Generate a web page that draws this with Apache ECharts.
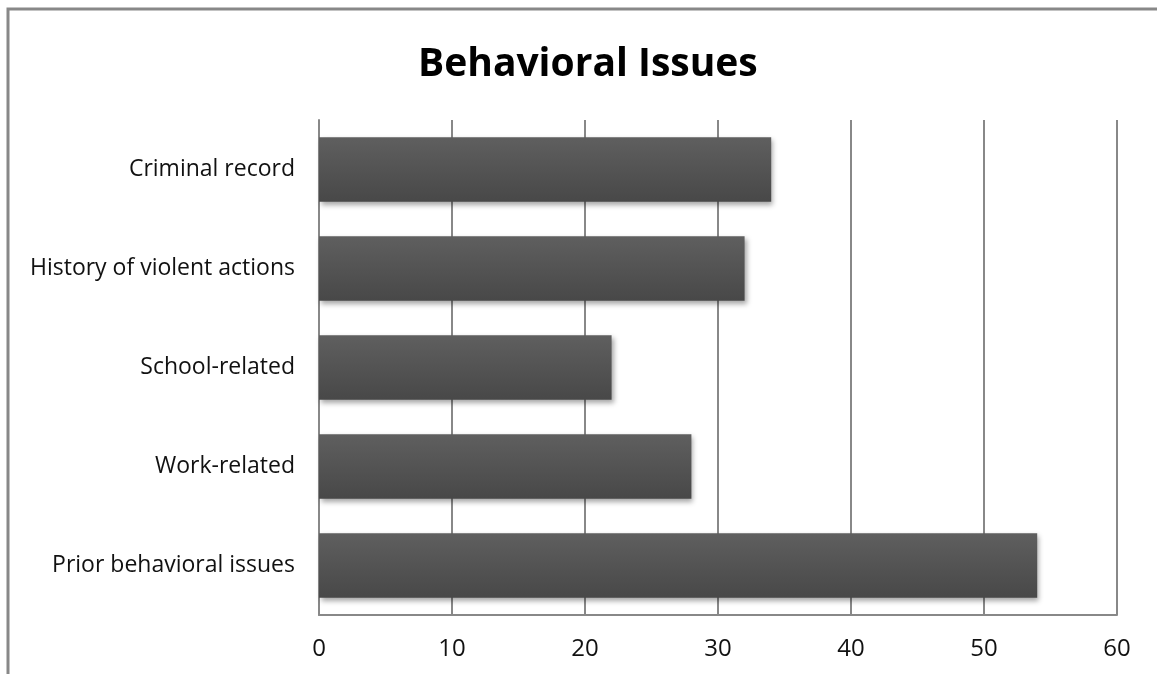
<!DOCTYPE html>
<html>
<head>
<meta charset="utf-8">
<style>
  html, body { margin: 0; padding: 0; background: #fff; }
  #chart { width: 1157px; height: 674px; }
</style>
<script src="https://cdn.jsdelivr.net/npm/echarts@6/dist/echarts.min.js"></script>
</head>
<body>
<div id="chart"></div>
<script>
// Categories listed bottom to top, as the category axis draws them
const categories = ['Prior behavioral issues', 'Work-related', 'School-related', 'History of violent actions', 'Criminal record'];
const values = [54, 28, 22, 32, 34];
const xTicks = [0, 10, 20, 30, 40, 50, 60];

const chart = echarts.init(document.getElementById('chart'), null, { renderer: 'canvas' });
const font = '"Open Sans", "Liberation Sans", sans-serif';

chart.setOption({
  animation: false,
  backgroundColor: '#fff',
  title: {
    text: 'Behavioral Issues',
    left: 413,
    top: 40,
    textStyle: { fontFamily: font, fontSize: 39, fontWeight: 'bold', color: '#000' }
  },
  graphic: [{
    type: 'polyline',
    shape: { points: [[8, 674], [8, 9], [1157, 9]] },
    style: { stroke: '#888', lineWidth: 3, fill: null }
  }],
  grid: { left: 319, right: 40, top: 120, bottom: 59 },
  xAxis: {
    type: 'value',
    min: xTicks[0],
    max: xTicks[xTicks.length - 1],
    interval: 10,
    axisLine: { show: true, lineStyle: { color: '#888', width: 2 } },
    axisTick: { show: false },
    splitLine: { show: true, lineStyle: { color: '#888', width: 2 } },
    axisLabel: { fontFamily: font, fontSize: 24, color: '#111', margin: 22 }
  },
  yAxis: {
    type: 'category',
    data: categories,
    axisLine: { show: true, lineStyle: { color: '#888', width: 2 } },
    axisTick: { show: false },
    axisLabel: { fontFamily: font, fontSize: 23, color: '#111', margin: 24 }
  },
  series: [{
    type: 'bar',
    data: values,
    barWidth: '65%',
    itemStyle: {
      color: new echarts.graphic.LinearGradient(0, 0, 0, 1, [
        { offset: 0, color: '#5f5f5f' },
        { offset: 1, color: '#484848' }
      ]),
      shadowColor: 'rgba(0,0,0,0.35)',
      shadowBlur: 5,
      shadowOffsetX: 2,
      shadowOffsetY: 3
    }
  }]
});
</script>
</body>
</html>
